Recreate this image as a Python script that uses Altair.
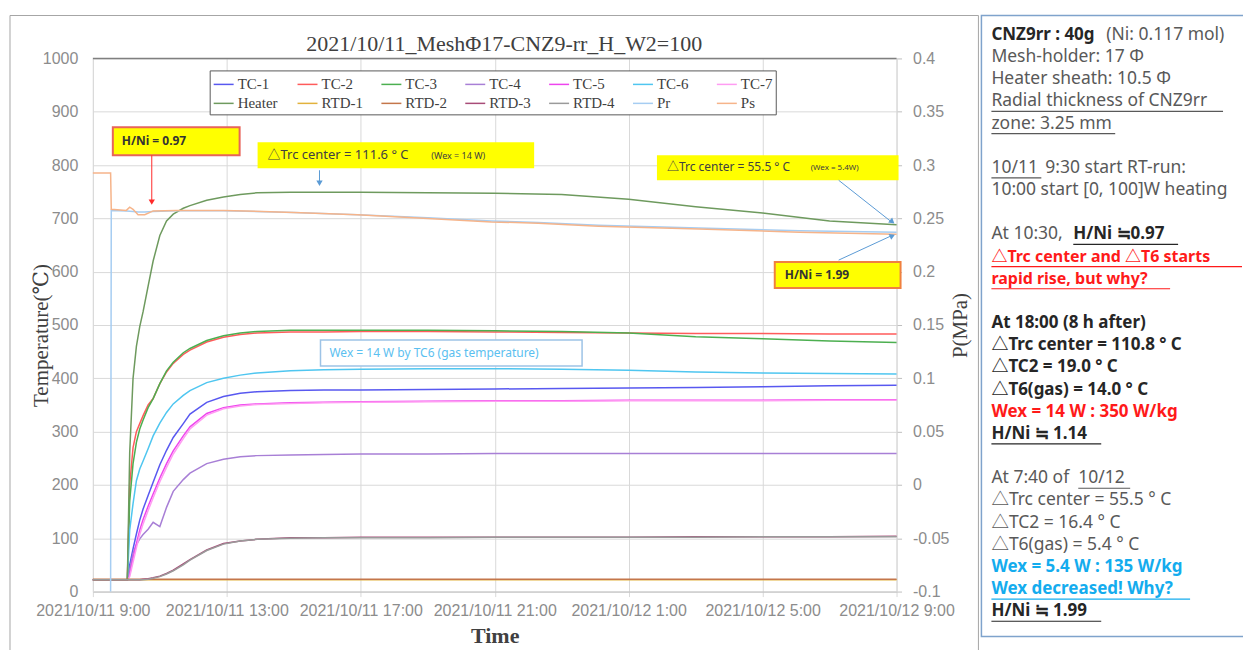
import json
import pandas as pd
import altair as alt

# ---------------- data ----------------
SERIES = ["TC-1", "TC-2", "TC-3", "TC-4", "TC-5", "TC-6", "TC-7",
          "Heater", "RTD-1", "RTD-2", "RTD-3", "RTD-4", "Pr", "Ps"]
COLORS = ["#5858F0", "#FF5B5B", "#4CAF50", "#A87FD6", "#EE44EE", "#4FC6F0", "#FF9CF2",
          "#6E9A5E", "#E2B23C", "#C4764A", "#A84C78", "#9A9A9A", "#A6CDF2", "#F6B48A"]

# hours after 2021/10/11 9:00
HOURS = [0, 1.03, 1.1, 1.2, 1.3, 1.4, 1.5, 1.65, 1.8, 2.0, 2.2, 2.4, 2.7, 2.9, 3.4,
         3.9, 4.4, 4.9, 5.9, 6.9, 8, 10, 12, 14, 16, 18, 20, 22, 24]

TC1 = [22, 22, 50, 80, 108, 134, 155, 180, 205, 238, 265, 289, 315, 333, 355,
       366, 372, 375, 377, 378, 378, 379, 380, 381, 382, 383, 384, 386, 387]
TC2 = [22, 22, 200, 270, 300, 315, 330, 350, 362, 390, 412, 428, 445, 453, 468,
       477, 482, 485, 487, 487, 488, 488, 487, 486, 485, 484, 484, 483, 483]
TC3 = [22, 22, 170, 240, 280, 305, 322, 345, 362, 390, 414, 430, 448, 456, 471,
       480, 485, 488, 490, 490, 490, 490, 489, 488, 485, 478, 474, 470, 467]
TC4 = [22, 22, 40, 72, 88, 99, 107, 117, 130, 122, 158, 188, 210, 222, 240,
       248, 253, 255, 256, 257, 258, 258, 259, 259, 259, 259, 259, 259, 259]
TC5 = [22, 22, 32, 62, 90, 115, 135, 160, 183, 213, 240, 264, 292, 309, 334,
       345, 350, 352, 354, 355, 356, 357, 358, 358, 359, 359, 359, 360, 360]
TC6 = [22, 22, 115, 165, 208, 230, 245, 268, 292, 316, 336, 352, 368, 377, 392,
       400, 406, 410, 414, 416, 417, 418, 418, 417, 415, 412, 410, 409, 408]
TC7 = [22, 22, 28, 55, 82, 107, 127, 152, 176, 206, 233, 258, 287, 305, 331,
       343, 348, 351, 353, 354, 355, 356, 357, 357, 358, 358, 358, 359, 359]
HEATER = [22, 22, 260, 400, 460, 497, 525, 573, 620, 668, 695, 708, 719, 724, 734,
          740, 745, 748, 749, 749, 749, 748, 747, 745, 736, 722, 710, 695, 688]
RTD1 = [22, 22, 22, 22, 22, 22, 22, 22, 22, 22, 22, 22, 22, 22, 22,
        22, 22, 22, 22, 22, 22, 22, 22, 22, 22, 22, 22, 22, 22]
RTD2 = [23, 23, 23, 23, 23, 23, 23, 23, 23, 23, 23, 23, 23, 23, 23,
        23, 23, 23, 23, 23, 23, 23, 23, 23, 23, 23, 23, 23, 23]
RTD3 = [22, 22, 22, 22, 22, 22, 23, 24, 26, 29, 34, 40, 52, 60, 78,
        90, 95, 98, 101, 101, 102, 102, 102, 102, 102, 103, 103, 103, 104]
RTD4 = [22, 22, 22, 22, 22, 22, 22, 23, 25, 28, 33, 39, 50, 59, 77,
        89, 95, 98, 100, 101, 101, 101, 102, 102, 102, 102, 103, 103, 103]

TEMPS = {"TC-1": TC1, "TC-2": TC2, "TC-3": TC3, "TC-4": TC4, "TC-5": TC5,
         "TC-6": TC6, "TC-7": TC7, "Heater": HEATER, "RTD-1": RTD1,
         "RTD-2": RTD2, "RTD-3": RTD3, "RTD-4": RTD4}

PR_HOURS = [0.53, 0.55, 1.0, 1.2, 1.35, 1.55, 1.8, 2.5, 3.9, 6, 7.9, 10,
            11.9, 13.3, 15.1, 18.1, 21.1, 24]
PR_VALUES = [-0.1, 0.2575, 0.2570, 0.2565, 0.2560, 0.2560, 0.2565, 0.2572, 0.2572,
             0.2555, 0.2535, 0.2505, 0.2475, 0.2462, 0.2435, 0.2410, 0.2385, 0.2370]
PS_HOURS = [0, 0.53, 0.55, 1.0, 1.1, 1.2, 1.35, 1.55, 1.8, 2.5, 3.9, 6, 7.9, 10,
            11.9, 13.3, 15.1, 18.1, 21.1, 24]
PS_VALUES = [0.2925, 0.2925, 0.2585, 0.2575, 0.2605, 0.2585, 0.2535, 0.2535, 0.2570,
             0.2575, 0.2575, 0.2555, 0.2535, 0.2500, 0.2467, 0.2455, 0.2427, 0.2400,
             0.2370, 0.2350]

X_TICKS = [0, 4, 8, 12, 16, 20, 24]
X_TICK_LABELS = ["2021/10/11 9:00", "2021/10/11 13:00", "2021/10/11 17:00",
                 "2021/10/11 21:00", "2021/10/12 1:00", "2021/10/12 5:00",
                 "2021/10/12 9:00"]
Y_LEFT_TICKS = [0, 100, 200, 300, 400, 500, 600, 700, 800, 900, 1000]
Y_RIGHT_TICKS = [-0.1, -0.05, 0, 0.05, 0.1, 0.15, 0.2, 0.25, 0.3, 0.35, 0.4]

TITLE = "2021/10/11_MeshΦ17-CNZ9-rr_H_W2=100"

# right-hand note panel: (row, x, text, style)
PANEL = [
    (0, 993, "CNZ9rr : 40g", "b"), (0, 1108, "(Ni: 0.117 mol)", "g"),
    (1, 993, "Mesh-holder: 17 Φ", "g"),
    (2, 993, "Heater sheath: 10.5 Φ", "g"),
    (3, 993, "Radial thickness of CNZ9rr", "g"),
    (4, 993, "zone: 3.25 mm", "g"),
    (6, 993, "10/11", "g"), (6, 1047, "9:30 start RT-run:", "g"),
    (7, 993, "10:00 start [0, 100]W heating", "g"),
    (9, 993, "At 10:30,", "g"), (9, 1075, "H/Ni ≒0.97", "b"),
    (10, 993, "△Trc center and △T6 starts", "r2"),
    (11, 993, "rapid rise, but why?", "r2"),
    (13, 993, "At 18:00 (8 h after)", "b"),
    (14, 993, "△Trc center = 110.8 ° C", "b"),
    (15, 993, "△TC2 = 19.0 ° C", "b"),
    (16, 993, "△T6(gas) = 14.0 ° C", "b"),
    (17, 993, "Wex = 14 W : 350 W/kg", "r"),
    (18, 993, "H/Ni ≒ 1.14", "b"),
    (20, 993, "At 7:40 of", "g"), (20, 1080, "10/12", "g"),
    (21, 993, "△Trc center = 55.5 ° C", "g"),
    (22, 993, "△TC2 = 16.4 ° C", "g"),
    (23, 993, "△T6(gas) = 5.4 ° C", "g"),
    (24, 993, "Wex = 5.4 W : 135 W/kg", "c"),
    (25, 993, "Wex decreased! Why?", "c"),
    (26, 993, "H/Ni ≒ 1.99", "b"),
]
UNDERLINES = [(3, 993, 1225, "g"), (4, 993, 1117, "g"), (6, 993, 1043, "g"),
              (9, 1075, 1180, "b"), (10, 993, 1244, "r"), (11, 993, 1172, "r"),
              (18, 993, 1103, "b"), (20, 1080, 1132, "g"), (25, 993, 1192, "c"),
              (26, 993, 1103, "b")]
STYLE = {"g": ("#595959", "normal", 17.5), "b": ("#262626", "bold", 17),
         "r": ("#FF1A1A", "bold", 17), "r2": ("#FF1A1A", "bold", 16),
         "c": ("#14ACEE", "bold", 17)}

# ---------------- layout constants ----------------
OX, OY = 93, 58          # page position of plot origin
W, H = 805, 534
SANS = "Noto Sans, Noto Sans CJK JP, sans-serif"
SERIF = "Liberation Serif, DejaVu Serif, serif"
AXF = "Liberation Sans, Arial, sans-serif"

temp_df = pd.DataFrame([{"series": s, "h": h, "v": v}
                        for s in TEMPS for h, v in zip(HOURS, TEMPS[s])])
pres_df = pd.DataFrame(
    [{"series": "Pr", "h": h, "p": p} for h, p in zip(PR_HOURS, PR_VALUES)] +
    [{"series": "Ps", "h": h, "p": p} for h, p in zip(PS_HOURS, PS_VALUES)])

color = alt.Color("series:N", scale=alt.Scale(domain=SERIES, range=COLORS),
                  legend=alt.Legend(orient="none", legendX=117, legendY=12,
                                    direction="horizontal", columns=7, title=None,
                                    symbolType="stroke", symbolSize=400,
                                    symbolStrokeWidth=1.5,
                                    labelFont=SERIF, labelFontSize=15,
                                    labelColor="#404040", labelOffset=3,
                                    columnPadding=15, rowPadding=0,
                                    gridAlign="all", padding=3,
                                    strokeColor="#595959", fillColor="white"))

x_enc = alt.X("h:Q", scale=alt.Scale(domain=[0, 24], nice=False, zero=False),
              axis=alt.Axis(values=X_TICKS,
                            labelExpr=json.dumps(X_TICK_LABELS) + "[round(datum.value/4)]",
                            labelFont=AXF, labelFontSize=16, labelColor="#8c8c8c",
                            labelPadding=6, labelOverlap=False, labelFlush=False,
                            ticks=True, tickSize=5, tickColor="#d9d9d9",
                            domainColor="#bfbfbf", grid=True, gridColor="#d9d9d9",
                            title="Time", titleFont=SERIF, titleFontSize=22,
                            titleFontWeight="bold", titleColor="#404040",
                            titleBaseline="middle", titleY=44))

temp = alt.Chart(temp_df).mark_line(strokeWidth=1.5).encode(
    x=x_enc,
    y=alt.Y("v:Q", scale=alt.Scale(domain=[0, 1000], nice=False),
            axis=alt.Axis(values=Y_LEFT_TICKS, format="d", labelFont=AXF,
                          labelFontSize=16, labelColor="#8c8c8c", labelPadding=15,
                          ticks=False, domainColor="#d9d9d9", grid=True,
                          gridColor="#d9d9d9",
                          title="Temperature(℃)", titleFont=SERIF, titleFontSize=21,
                          titleFontWeight="normal", titleColor="#404040",
                          titleAngle=270, titleBaseline="middle", titleX=-51,
                          titleY=277)),
    color=color,
)

pres = alt.Chart(pres_df).mark_line(strokeWidth=1.5).encode(
    x=x_enc,
    y=alt.Y("p:Q", scale=alt.Scale(domain=[-0.1, 0.4], nice=False, zero=False),
            axis=alt.Axis(orient="right", values=Y_RIGHT_TICKS,
                          labelExpr="'' + datum.value", labelFont=AXF,
                          labelFontSize=16, labelColor="#8c8c8c", labelPadding=11,
                          ticks=True, tickSize=5, tickColor="#bfbfbf",
                          domainColor="#d9d9d9", grid=False,
                          title="P(MPa)", titleFont=SERIF, titleFontSize=21,
                          titleFontWeight="normal", titleColor="#404040",
                          titleAngle=270, titleBaseline="middle", titleX=64)),
    color=color,
)

ONE = pd.DataFrame({"t": [""]})


def rect(x0, y0, x1, y1, fill=None, stroke=None, sw=1.0):
    kw = {}
    if fill:
        kw["fill"] = fill
    else:
        kw["fillOpacity"] = 0
    if stroke:
        kw["stroke"] = stroke
        kw["strokeWidth"] = sw
    return alt.Chart(ONE).mark_rect(**kw).encode(
        x=alt.value(x0 - OX), x2=alt.value(x1 - OX),
        y=alt.value(y0 - OY), y2=alt.value(y1 - OY))


def rule(x0, y0, x1, y1, col, sw=1.0):
    return alt.Chart(ONE).mark_rule(color=col, strokeWidth=sw).encode(
        x=alt.value(x0 - OX), x2=alt.value(x1 - OX),
        y=alt.value(y0 - OY), y2=alt.value(y1 - OY))


def head(x, y, ang, col):
    return alt.Chart(ONE).mark_point(shape="triangle", filled=True, size=40,
                                     angle=ang, color=col, opacity=1).encode(
        x=alt.value(x - OX), y=alt.value(y - OY))


def text(x, y, s, size, col, weight="normal", font=SANS, align="left"):
    return alt.Chart(pd.DataFrame({"t": [s]})).mark_text(
        align=align, baseline="middle", font=font, fontSize=size,
        fontWeight=weight, color=col).encode(
        x=alt.value(x - OX), y=alt.value(y - OY), text="t:N")


ann = []
# frames
ann.append(rect(10, 15, 980, 660, stroke="#a6a6a6", sw=1))
ann.append(rect(983, 15, 1248, 637, stroke="#7FA3CC", sw=1.5))
ann.append(rule(OX, OY, OX + W, OY, "#7f7f7f", 1.5))

# chart title
ann.append(text(505, 44, TITLE, 22, "#404040", font=SERIF, align="center"))

# callouts
ann.append(rect(113, 127, 240, 155, fill="#FFFF00", stroke="#E8645A", sw=2))
ann.append(text(122, 141, "H/Ni = 0.97", 12, "#333333", "bold"))
ann.append(rule(152, 155, 152, 200, "#FF2A2A", 1))
ann.append(head(152, 201, 180, "#FF2A2A"))

ann.append(rect(258, 142, 535, 168, fill="#FFFF00"))
ann.append(text(268, 155, "△Trc center = 111.6 ° C", 13, "#404040"))
ann.append(text(432, 156, "(Wex = 14 W)", 9, "#404040"))
ann.append(rule(320, 170, 320, 181, "#5B9BD5", 1))
ann.append(head(320, 182, 180, "#5B9BD5"))

ann.append(rect(658, 155, 900, 180, fill="#FFFF00"))
ann.append(text(668, 167, "△Trc center = 55.5 ° C", 12, "#404040"))
ann.append(text(812, 168, "(Wex = 5.4W)", 8, "#404040"))
ann.append(rule(840, 180, 892, 221, "#5B9BD5", 1))
ann.append(head(893, 221, 129, "#5B9BD5"))

ann.append(rect(776, 262, 902, 288, fill="#FFFF00", stroke="#F08040", sw=2))
ann.append(text(786, 275, "H/Ni = 1.99", 12, "#333333", "bold"))
ann.append(rule(840, 260, 892, 236, "#5B9BD5", 1))
ann.append(head(893, 236, 66, "#5B9BD5"))

ann.append(rect(321, 340, 583, 366, fill="white", stroke="#9DC3E6", sw=1.5))
ann.append(text(330, 353, "Wex = 14 W by TC6 (gas temperature)", 12, "#5BC0F0"))

# notes panel
ROW0, ROWH = 34.5, 22.2
for row, x, s, st in PANEL:
    col, wt, fs = STYLE[st]
    ann.append(text(x, ROW0 + ROWH * row, s, fs, col, wt))
for row, x0, x1, st in UNDERLINES:
    y = ROW0 + ROWH * row + 10
    ann.append(rule(x0, y, x1, y, STYLE[st][0], 1.2))

chart = alt.layer(temp, pres, *ann).resolve_scale(y="independent").properties(
    width=W, height=H,
    autosize=alt.AutoSizeParams(type="none"),
    padding={"left": 85, "top": 50, "right": 347, "bottom": 58},
    background="white",
).configure_view(stroke=None)

chart.save("out.html", embed_options={"renderer": "svg", "actions": False})
